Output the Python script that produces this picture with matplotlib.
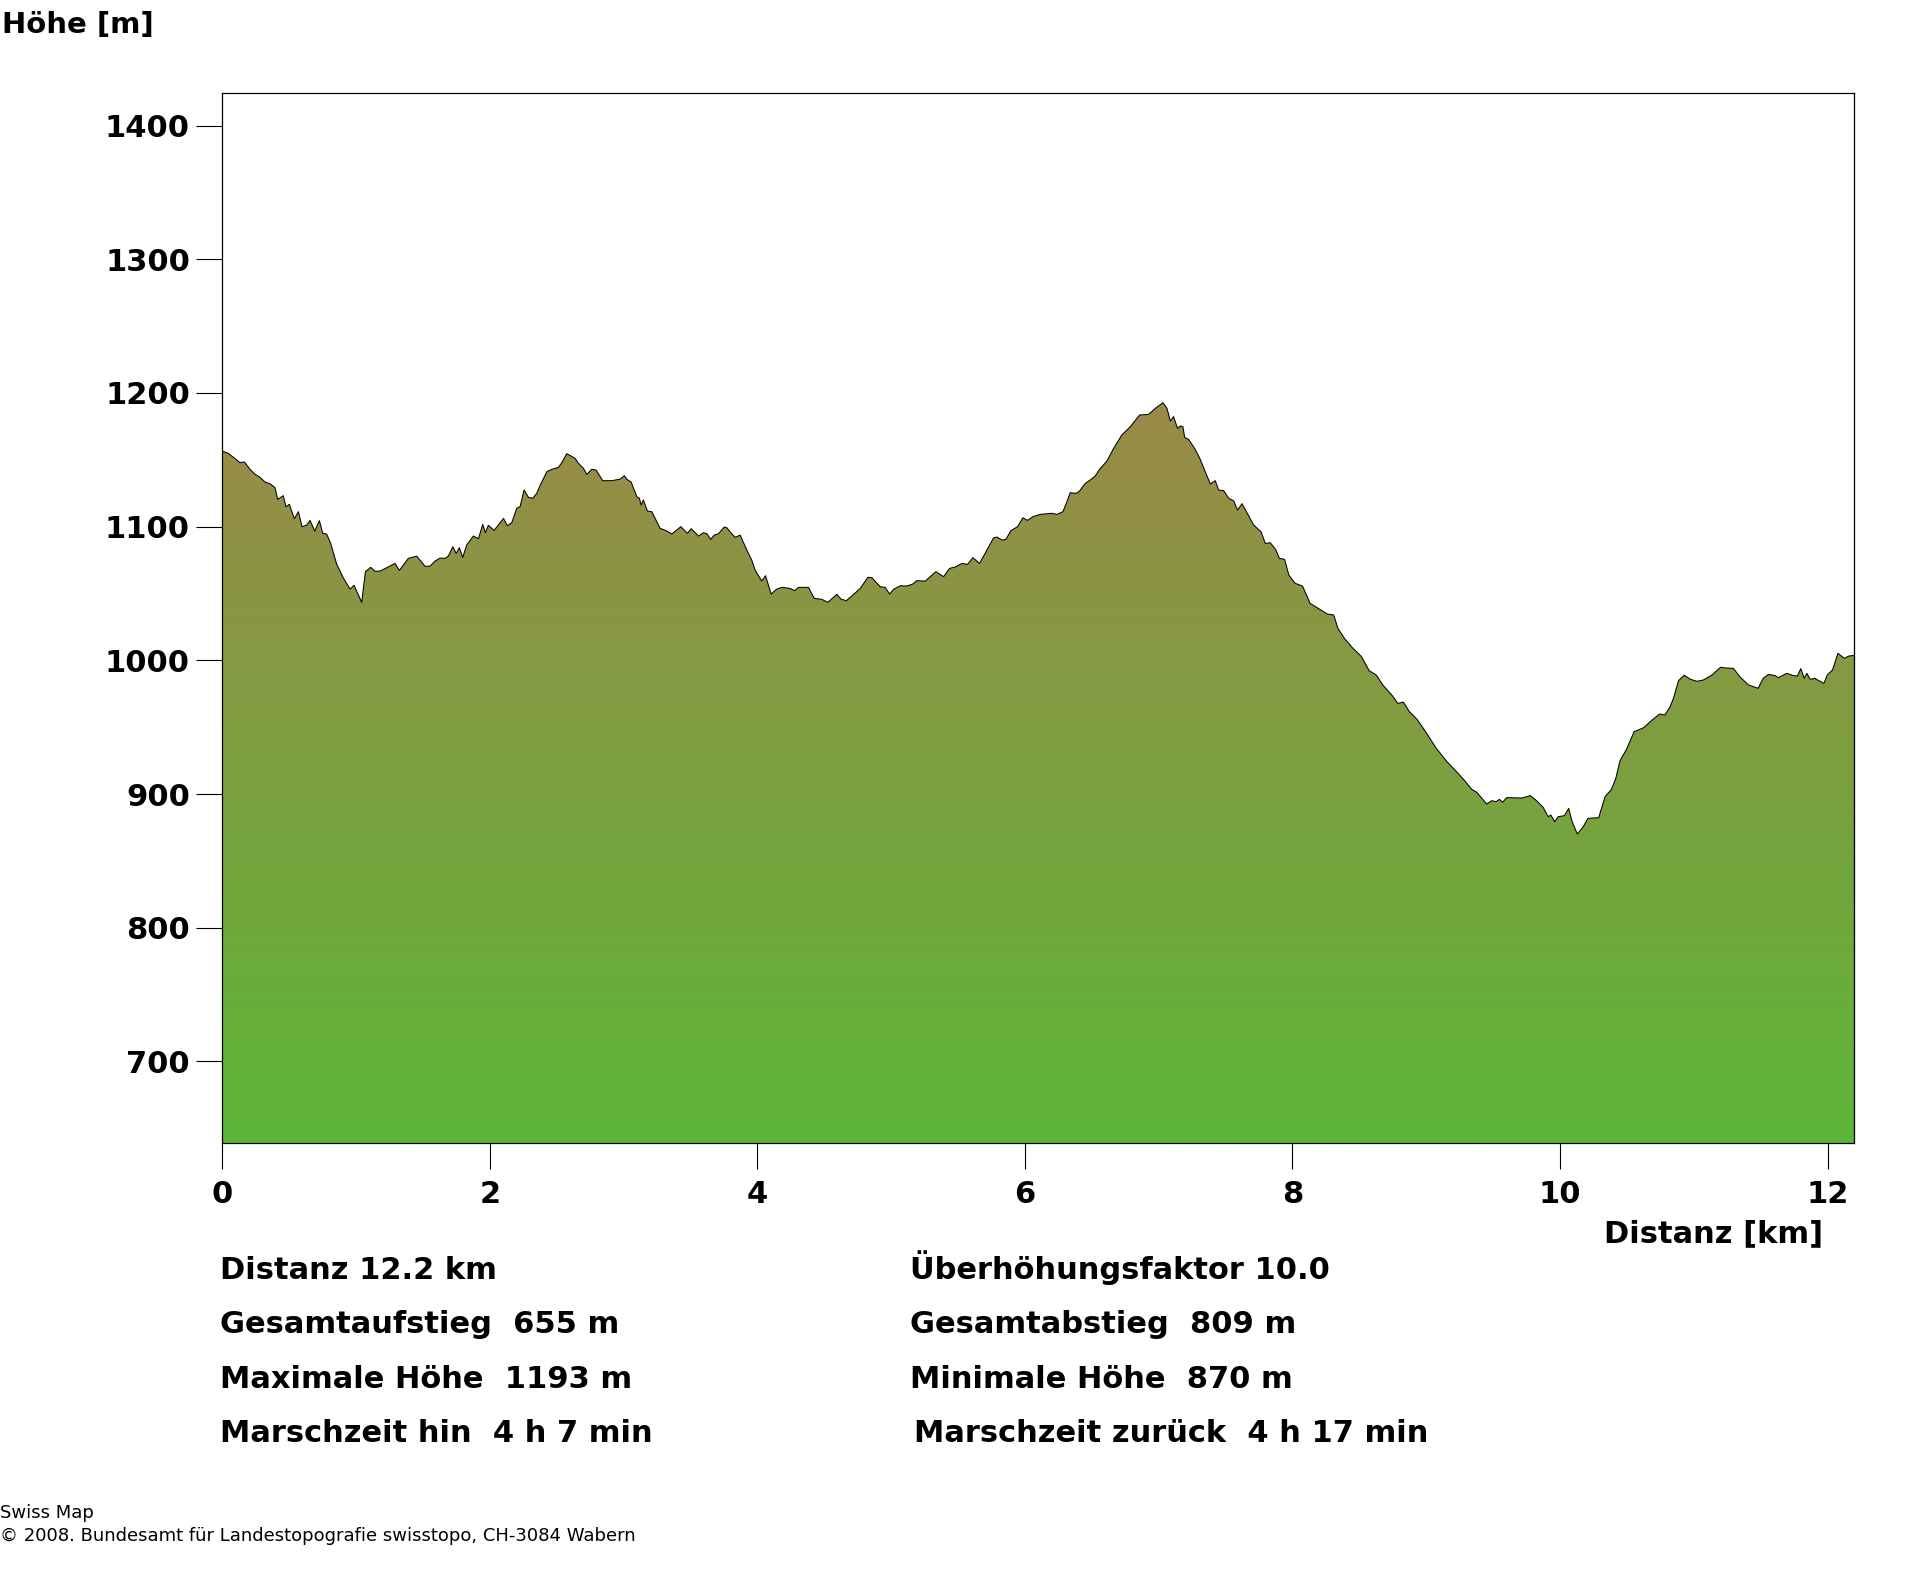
import numpy as np
import matplotlib
matplotlib.use('Agg')
import matplotlib.pyplot as plt
from matplotlib.colors import LinearSegmentedColormap
from matplotlib.patches import Polygon

# Profil: Distanz [km] und Höhe [m]
dist_km = [
    0.000, 0.045, 0.095, 0.132, 0.165, 0.207, 0.245, 0.282, 0.319, 0.357, 0.394, 0.414,
    0.456, 0.476, 0.501, 0.539, 0.569, 0.596, 0.631, 0.656, 0.691, 0.726, 0.751, 0.780,
    0.810, 0.855, 0.905, 0.955, 0.985, 1.042, 1.070, 1.109, 1.142, 1.179, 1.229, 1.291,
    1.324, 1.391, 1.453, 1.516, 1.553, 1.591, 1.628, 1.665, 1.690, 1.723, 1.748, 1.772,
    1.797, 1.827, 1.877, 1.915, 1.947, 1.967, 1.989, 2.032, 2.102, 2.131, 2.164, 2.201,
    2.226, 2.256, 2.288, 2.321, 2.351, 2.376, 2.426, 2.463, 2.513, 2.538, 2.575, 2.637,
    2.662, 2.700, 2.725, 2.762, 2.794, 2.844, 2.912, 2.974, 3.006, 3.024, 3.056, 3.099,
    3.118, 3.131, 3.148, 3.178, 3.211, 3.273, 3.318, 3.360, 3.428, 3.477, 3.505, 3.560,
    3.597, 3.622, 3.652, 3.677, 3.709, 3.752, 3.772, 3.801, 3.834, 3.871, 3.921, 3.958,
    3.983, 4.033, 4.061, 4.103, 4.145, 4.183, 4.245, 4.278, 4.307, 4.382, 4.425, 4.482,
    4.527, 4.594, 4.624, 4.664, 4.694, 4.769, 4.826, 4.856, 4.918, 4.955, 4.988, 5.018,
    5.068, 5.118, 5.162, 5.192, 5.255, 5.334,
    5.392, 5.437, 5.479, 5.529, 5.571, 5.611, 5.661, 5.716, 5.766, 5.791, 5.828, 5.858,
    5.895, 5.945, 5.985, 6.020, 6.060, 6.115, 6.202, 6.239, 6.284, 6.309, 6.339, 6.384,
    6.409, 6.451, 6.488, 6.526, 6.558, 6.613, 6.663, 6.725, 6.788, 6.857, 6.925, 6.975,
    7.032, 7.062, 7.087, 7.111, 7.141, 7.161, 7.181, 7.194, 7.224, 7.273, 7.311, 7.348,
    7.386, 7.423, 7.448, 7.486, 7.523, 7.560, 7.590, 7.623, 7.660, 7.710, 7.765, 7.797,
    7.834,
    7.877, 7.902, 7.941, 7.973, 8.020, 8.075, 8.132, 8.212, 8.260, 8.308, 8.340, 8.388,
    8.452, 8.516, 8.573, 8.627, 8.675, 8.749, 8.787, 8.829, 8.874, 8.931, 8.995, 9.075,
    9.155, 9.219, 9.283, 9.340, 9.378, 9.452, 9.490, 9.522, 9.548, 9.570, 9.602, 9.714,
    9.778, 9.819, 9.874, 9.912, 9.931, 9.960, 9.986, 10.033, 10.065, 10.088, 10.129, 10.171,
    10.209, 10.289, 10.337, 10.385, 10.417, 10.449, 10.497, 10.554, 10.625, 10.689, 10.746, 10.784,
    10.823, 10.848, 10.886, 10.928, 10.976, 11.024, 11.072, 11.136, 11.200, 11.238, 11.296, 11.344,
    11.408, 11.481, 11.519, 11.558, 11.609, 11.631, 11.695, 11.743, 11.775, 11.800, 11.826, 11.845,
    11.871, 11.903, 11.973, 11.998, 12.037, 12.078, 12.126, 12.158, 12.200,
]
hoehe_m = [
    1156.6, 1154.8, 1151.0, 1147.9, 1148.4, 1142.9, 1139.1, 1136.9, 1133.4, 1132.1, 1129.2, 1120.4,
    1123.2, 1114.9, 1116.7, 1106.0, 1111.2, 1100.0, 1101.2, 1104.7, 1096.7, 1104.5, 1095.0, 1094.5,
    1087.5, 1072.0, 1061.6, 1053.3, 1056.1, 1043.4, 1066.3, 1069.6, 1066.6, 1066.8, 1069.3, 1072.5,
    1067.3, 1076.3, 1078.0, 1070.3, 1070.5, 1074.3, 1076.5, 1076.3, 1078.0, 1085.0, 1080.0, 1084.3,
    1077.0, 1086.3, 1093.0, 1091.0, 1101.7, 1095.5, 1101.0, 1097.2, 1106.2, 1100.7, 1103.0, 1113.7,
    1115.0, 1127.4, 1122.0, 1121.2, 1125.0, 1130.9, 1141.1, 1142.9, 1144.4, 1147.9, 1154.6, 1151.1,
    1147.4, 1143.6, 1139.1, 1142.9, 1142.4, 1134.4, 1134.4, 1135.6, 1138.1, 1135.4, 1133.4, 1122.4,
    1121.2, 1116.2, 1119.9, 1111.7, 1111.2, 1098.7, 1097.0, 1094.5, 1100.0, 1095.0, 1098.5, 1093.0,
    1095.5, 1094.7, 1090.5, 1093.7, 1094.7, 1099.7, 1099.2, 1095.5, 1092.0, 1093.7, 1082.5, 1075.0,
    1067.5, 1059.3, 1063.3, 1049.6, 1053.3, 1054.6, 1053.8, 1052.1, 1054.6, 1054.6, 1046.4, 1045.6,
    1043.4, 1049.4, 1045.9, 1044.6, 1047.1, 1053.8, 1062.1, 1061.8, 1055.1, 1054.6, 1049.6, 1053.1,
    1055.8, 1055.6, 1057.1, 1059.6, 1059.3, 1066.3,
    1062.6, 1068.8, 1069.8, 1072.5, 1071.8, 1076.8, 1072.5, 1082.5, 1091.7, 1092.2, 1090.0, 1090.5,
    1097.0, 1100.0, 1106.7, 1104.7, 1107.5, 1109.2, 1110.0, 1109.2, 1111.2, 1117.4, 1125.4, 1124.9,
    1126.7, 1132.4, 1134.9, 1137.9, 1142.9, 1149.1, 1158.6, 1168.6, 1174.8, 1183.5, 1184.0, 1188.5,
    1192.7, 1188.5, 1179.0, 1182.3, 1173.5, 1175.3, 1174.8, 1166.8, 1165.3, 1157.8, 1150.3, 1141.1,
    1131.9, 1134.4, 1127.4, 1126.9, 1121.2, 1119.4, 1112.4, 1117.2, 1110.4, 1101.2, 1096.2, 1087.5,
    1088.0,
    1082.5, 1076.3, 1075.6, 1063.8, 1057.6, 1055.6, 1042.6, 1037.7, 1034.7, 1033.9, 1023.9, 1016.5,
    1009.0, 1002.8, 992.3, 989.0, 981.6, 973.3, 967.8, 968.8, 961.6, 955.9, 946.6, 934.2,
    924.2, 917.5, 910.5, 903.5, 901.3, 892.5, 895.0, 894.3, 896.0, 893.8, 897.3, 897.0,
    898.8, 895.5, 890.0, 883.0, 884.3, 879.3, 883.0, 883.8, 889.3, 880.1, 870.1, 875.1,
    881.8, 882.3, 898.0, 903.5, 911.7, 925.0, 933.4, 946.6, 949.6, 955.4, 959.9, 959.1,
    965.3, 971.6, 984.8, 988.8, 985.8, 984.3, 985.3, 989.0, 994.8, 994.3, 994.0, 987.8,
    981.6, 979.1, 986.5, 989.5, 988.6, 987.0, 990.3, 988.6, 988.3, 993.8, 986.5, 990.3,
    985.8, 986.5, 982.8, 989.0, 992.8, 1005.2, 1001.5, 1003.2, 1003.7,
]

x_ticks = [0, 2, 4, 6, 8, 10, 12]
y_ticks = [700, 800, 900, 1000, 1100, 1200, 1300, 1400]

links = ['Distanz 12.2 km', 'Gesamtaufstieg  655 m', 'Maximale Höhe  1193 m', 'Marschzeit hin  4 h 7 min']
rechts = ['Überhöhungsfaktor 10.0', 'Gesamtabstieg  809 m', 'Minimale Höhe  870 m', 'Marschzeit zurück  4 h 17 min']

W, H = 1920, 1572
y_min, y_max = 638.7, 1424.2

def fp(x, y):
    # Pixel -> Figurkoordinaten
    return x / W, 1 - y / H

plt.rcParams['font.family'] = 'DejaVu Sans'
fig = plt.figure(figsize=(W / 100, H / 100), dpi=100)
ax = fig.add_axes([222.3 / W, 1 - 1143.3 / H, (1854.3 - 222.3) / W, (1143.3 - 93.3) / H])

# Fläche unter dem Profil, mit Farbverlauf
verts = [(dist_km[0], y_min)] + list(zip(dist_km, hoehe_m)) + [(dist_km[-1], y_min)]
flaeche = Polygon(verts, closed=True, facecolor='none', edgecolor='none', transform=ax.transData)
ax.add_patch(flaeche)
cmap = LinearSegmentedColormap.from_list('profil', ['#5cb538', '#9b8a48'])
grad = np.linspace(0, 1, 256).reshape(-1, 1)
im = ax.imshow(grad, extent=[0, 12.2, y_min, max(hoehe_m)], origin='lower',
               aspect='auto', cmap=cmap, zorder=1, interpolation='bilinear')
im.set_clip_path(flaeche)
ax.plot(dist_km, hoehe_m, color='black', lw=0.75, zorder=3)

ax.set_xlim(0, 12.2)
ax.set_ylim(y_min, y_max)
ax.set_xticks(x_ticks)
ax.set_yticks(y_ticks)
ax.tick_params(axis='x', length=18.5, width=0.8, pad=8, labelsize=22)
ax.tick_params(axis='y', length=18.5, width=0.8, pad=4.8, labelsize=22)
for lab in ax.get_xticklabels() + ax.get_yticklabels():
    lab.set_fontweight('bold')
for s in ax.spines.values():
    s.set_linewidth(0.9)

fig.text(*fp(2, 33), 'Höhe [m]', fontsize=21, fontweight='bold', va='baseline')
fig.text(*fp(1823, 1242), 'Distanz [km]', fontsize=22, fontweight='bold', va='baseline', ha='right')

zeilen_y = [1279.3, 1333.3, 1388.3, 1441.7]
for i in range(4):
    fig.text(*fp(220.5, zeilen_y[i]), links[i], fontsize=22, fontweight='bold', va='baseline')
    xr = 914.5 if i == 3 else 910.4
    fig.text(*fp(xr, zeilen_y[i]), rechts[i], fontsize=22, fontweight='bold', va='baseline')

fig.text(*fp(0, 1518), 'Swiss Map', fontsize=13, va='baseline')
fig.text(*fp(0, 1541), '© 2008. Bundesamt für Landestopografie swisstopo, CH-3084 Wabern',
         fontsize=13, va='baseline')

fig.savefig('out.png', dpi=100, facecolor='white')
